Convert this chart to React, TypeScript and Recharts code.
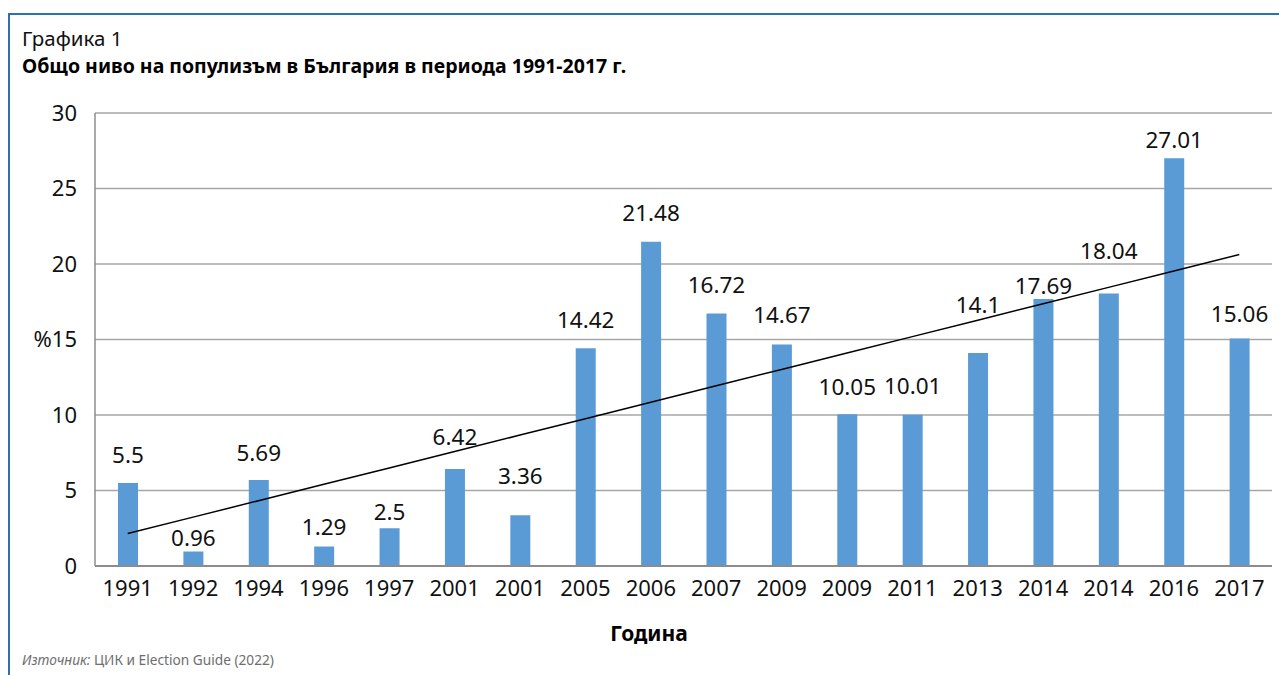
import React from 'react';
import { ComposedChart, Bar, Line, XAxis, YAxis, CartesianGrid, LabelList } from 'recharts';

const years = ['1991', '1992', '1994', '1996', '1997', '2001', '2001', '2005', '2006', '2007', '2009', '2009', '2011', '2013', '2014', '2014', '2016', '2017'];
const levels = [5.5, 0.96, 5.69, 1.29, 2.5, 6.42, 3.36, 14.42, 21.48, 16.72, 14.67, 10.05, 10.01, 14.1, 17.69, 18.04, 27.01, 15.06];
const yTicks = [0, 5, 10, 15, 20, 25, 30];

// linear trend (least squares) of the series, as in the original chart
const n = levels.length;
const meanX = (n - 1) / 2;
const meanY = levels.reduce((a, b) => a + b, 0) / n;
let sxy = 0;
let sxx = 0;
levels.forEach((v, i) => {
  sxy += (i - meanX) * (v - meanY);
  sxx += (i - meanX) * (i - meanX);
});
const slope = sxy / sxx;
const intercept = meanY - slope * meanX;

const data = years.map((y, i) => ({ id: i, year: y, level: levels[i], trend: intercept + slope * i }));

// vertical lift of each value label above its bar (layout only)
const labelLift = [28, 14, 28, 20, 17, 33, 40, 29, 29, 29, 30, 28, 29, 49, 13, 43, 19, 25];

const FONT = '"Noto Sans", "Open Sans", sans-serif';

const renderLabel = (props: any) => {
  const { x, y, width, value, index } = props;
  return (
    <text
      x={Number(x) + Number(width) / 2}
      y={Number(y) - labelLift[index]}
      textAnchor="middle"
      dominantBaseline="central"
      fontSize={22.5}
      fontFamily={FONT}
      fill="#111"
    >
      {String(value)}
    </text>
  );
};

export default function App() {
  return (
    <div style={{ position: 'absolute', left: 0, top: 0, width: 1279, height: 675, background: '#fff', fontFamily: FONT, overflow: 'hidden' }}>
      <div style={{ position: 'absolute', left: 8, top: 13, right: 0, height: 2, background: '#2e6fb0' }} />
      <div style={{ position: 'absolute', left: 8, top: 13, bottom: 0, width: 2, background: '#2e6fb0' }} />
      <div style={{ position: 'absolute', left: 22, top: 28, fontSize: 20.5, lineHeight: '20px', color: '#111' }}>Графика 1</div>
      <div style={{ position: 'absolute', left: 22, top: 56, fontSize: 19.5, lineHeight: '20px', fontWeight: 700, color: '#000' }}>
        Общо ниво на популизъм в България в периода 1991-2017 г.
      </div>
      <ComposedChart width={1279} height={675} data={data} margin={{ top: 113, right: 7, left: 0, bottom: 69 }}>
        <CartesianGrid vertical={false} stroke="#a6a6a6" strokeWidth={1.5} />
        <XAxis
          dataKey="id"
          type="category"
          height={40}
          tickFormatter={(i: any) => years[Number(i)]}
          tickLine={false}
          tickSize={0}
          tickMargin={14}
          axisLine={{ stroke: '#8c8c8c', strokeWidth: 2 }}
          tick={{ fontSize: 22, fill: '#111', fontFamily: FONT }}
          interval={0}
        />
        <YAxis
          width={95}
          domain={[0, 30]}
          ticks={yTicks}
          tickFormatter={(v: any) => (v === 15 ? '%15' : String(v))}
          tickLine={false}
          tickSize={0}
          tickMargin={18}
          axisLine={{ stroke: '#8c8c8c', strokeWidth: 1.5 }}
          tick={{ fontSize: 22, fill: '#111', fontFamily: FONT }}
        />
        <Bar dataKey="level" fill="#5b9bd5" barSize={20} isAnimationActive={false}>
          <LabelList dataKey="level" content={renderLabel} />
        </Bar>
        <Line dataKey="trend" stroke="#000" strokeWidth={1.5} dot={false} activeDot={false} isAnimationActive={false} />
      </ComposedChart>
      <div style={{ position: 'absolute', left: 649, top: 621, transform: 'translateX(-50%)', fontSize: 21, lineHeight: '24px', fontWeight: 700, color: '#000' }}>
        Година
      </div>
      <div style={{ position: 'absolute', left: 22, top: 652, fontSize: 13.7, lineHeight: '16px', color: '#6e6e6e' }}>
        <i>Източник:</i> ЦИК и Election Guide (2022)
      </div>
    </div>
  );
}
